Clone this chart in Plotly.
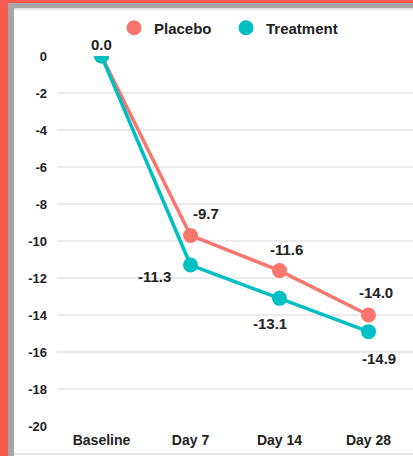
import plotly.graph_objects as go

# Mean change from baseline by visit
visits = ["Baseline", "Day 7", "Day 14", "Day 28"]
placebo = [0.0, -9.7, -11.6, -14.0]
treatment = [0.0, -11.3, -13.1, -14.9]
y_ticks = list(range(0, -21, -2))

PLACEBO_COLOR = "#F8766D"
TREATMENT_COLOR = "#00BFC4"
TEXT_COLOR = "#222222"
FONT = "Liberation Sans, Arial, sans-serif"

W, H = 413, 456
L, R, T, B = 57, 0, 56, 30

fig = go.Figure()

for name, vals, color in [("Placebo", placebo, PLACEBO_COLOR),
                          ("Treatment", treatment, TREATMENT_COLOR)]:
    fig.add_trace(go.Scatter(
        x=visits, y=vals, mode="lines+markers", name=name,
        line=dict(color=color, width=3.5),
        marker=dict(color=color, size=15),
        cliponaxis=True, showlegend=False,
    ))
    # legend entry shows a dot only
    fig.add_trace(go.Scatter(
        x=[None], y=[None], mode="markers", name=name,
        marker=dict(color=color, size=15), showlegend=True,
    ))

# value labels: (x shift, y shift) per point
placebo_shift = [(0, 12), (15, 22), (7, 21), (7, 23)]
treatment_shift = [(-36, -11), (-10, -25), (10, -27)]

label_font = dict(family=FONT, size=15, color=TEXT_COLOR, weight="bold")

fig.add_annotation(x=visits[0], y=placebo[0], text=f"{placebo[0]:.1f}",
                   showarrow=False, xshift=0, yshift=placebo_shift[0][1],
                   font=label_font)
for i in range(1, len(visits)):
    dx, dy = placebo_shift[i]
    fig.add_annotation(x=visits[i], y=placebo[i], text=f"{placebo[i]:.1f}",
                       showarrow=False, xshift=dx, yshift=dy, font=label_font)
    dx, dy = treatment_shift[i - 1]
    fig.add_annotation(x=visits[i], y=treatment[i], text=f"{treatment[i]:.1f}",
                       showarrow=False, xshift=dx, yshift=dy, font=label_font)

# frame strips along the left and top edges (pixel -> paper coordinates)
pw, ph = W - L - R, H - T - B
def px(x):
    return (x - L) / pw
def py(y):
    return (H - B - y) / ph

frame = [
    (0, 0, 8, H, "#F75B4E"),
    (0, 0, W, 3, "#F75B4E"),
    (8, 3, 14, H, "#A6A8A7"),
    (8, 3, W, 8, "#A6A8A7"),
    (14, 8, W, 10, "#E2E3E3"),
]
for x0, y0, x1, y1, c in frame:
    fig.add_shape(type="rect", xref="paper", yref="paper",
                  x0=px(x0), x1=px(x1), y0=py(y0), y1=py(y1),
                  fillcolor=c, line=dict(width=0), layer="above")
fig.add_shape(type="line", xref="paper", yref="paper",
              x0=px(14), x1=px(W), y0=py(H - 2), y1=py(H - 2),
              line=dict(color="#E6E6E6", width=2))

fig.update_layout(
    width=W, height=H,
    margin=dict(l=L, r=R, t=T, b=B),
    paper_bgcolor="white", plot_bgcolor="white",
    font=dict(family=FONT, color=TEXT_COLOR),
    legend=dict(orientation="h", x=px(226), xanchor="center",
                y=py(28), yanchor="middle",
                entrywidth=67,
                font=dict(family=FONT, size=15, color=TEXT_COLOR, weight="bold"),
                itemclick=False, bgcolor="rgba(0,0,0,0)"),
    xaxis=dict(type="category", range=[-0.5, 3.5], showgrid=False,
               zeroline=False, showline=False, ticks="",
               ticklabelstandoff=4,
               tickfont=dict(family=FONT, size=14, color=TEXT_COLOR, weight="bold")),
    yaxis=dict(range=[-20, 0], tickvals=y_ticks,
               ticktext=[str(v) for v in y_ticks],
               showgrid=True, gridcolor="#EBEBEB", gridwidth=2,
               zeroline=False, showline=False, ticks="",
               ticklabelstandoff=9,
               tickfont=dict(family=FONT, size=13, color=TEXT_COLOR, weight="bold")),
)

fig.write_html("out.html")
